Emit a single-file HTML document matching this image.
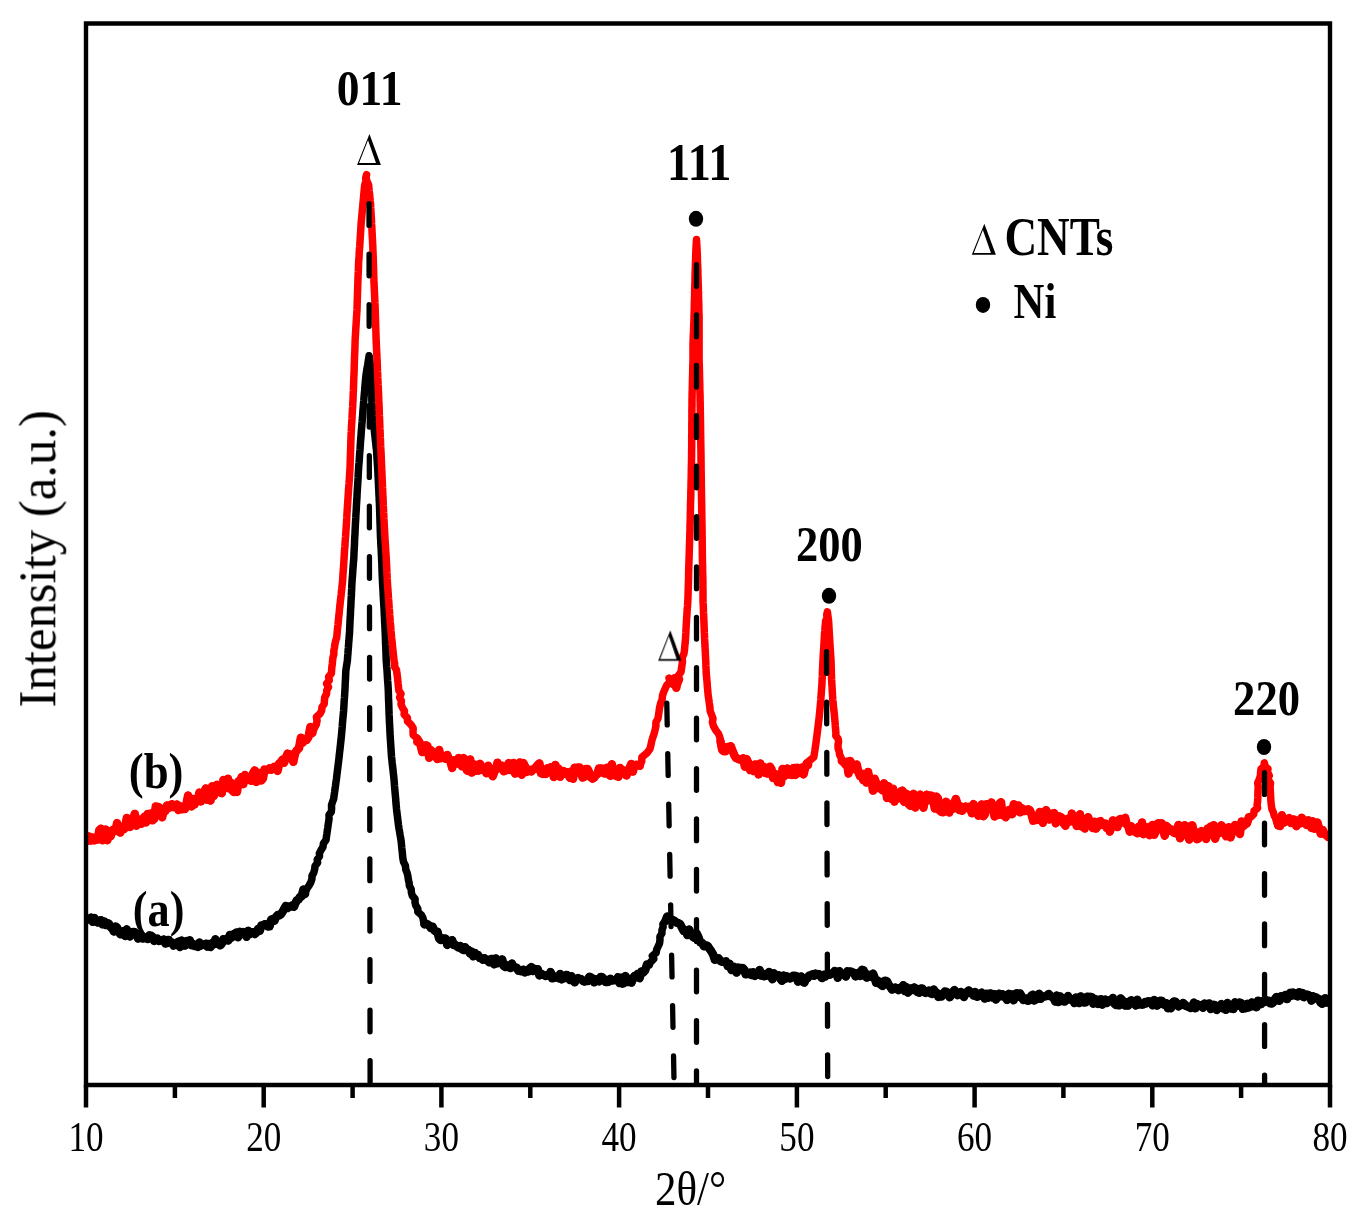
<!DOCTYPE html>
<html><head><meta charset="utf-8"><style>html,body{margin:0;padding:0;background:#fff;overflow:hidden}svg{display:block}</style></head><body>
<svg width="1364" height="1226" viewBox="0 0 1364 1226" font-family="&quot;Liberation Serif&quot;, serif" fill="#000">
<rect width="1364" height="1226" fill="#fff"/>
<defs><clipPath id="pc"><rect x="88" y="26" width="1240" height="1057"/></clipPath></defs>
<g clip-path="url(#pc)" fill="none" stroke-linejoin="round" stroke-linecap="round">
<polyline points="86.0,919.0 88.0,919.5 89.6,918.6 91.2,917.6 92.8,921.8 94.4,917.9 96.0,921.5 97.6,922.5 99.3,921.9 100.9,920.2 102.5,924.3 104.2,921.4 105.8,925.1 107.4,923.1 109.0,923.9 110.7,927.1 112.3,928.4 113.9,931.4 115.5,926.5 117.1,927.7 118.7,931.3 120.3,934.2 122.0,931.9 123.6,931.0 125.2,935.9 126.8,929.3 128.4,933.2 130.0,936.4 131.6,932.6 133.2,931.9 134.8,932.2 136.4,934.1 138.1,938.5 139.7,934.1 141.3,937.7 142.9,938.6 144.5,938.0 146.1,937.3 147.7,938.9 149.3,935.4 150.9,935.7 152.6,937.0 154.2,940.9 155.8,939.2 157.4,938.6 159.0,940.9 160.6,940.5 162.2,940.4 163.8,939.5 165.5,943.5 167.1,943.1 168.7,939.9 170.3,942.7 171.9,942.6 173.6,945.5 175.2,944.7 176.8,943.2 178.4,941.7 180.0,947.0 181.7,940.5 183.3,942.9 184.9,945.6 186.5,941.0 188.1,943.7 189.8,940.3 191.4,945.2 193.0,944.0 194.6,946.0 196.2,944.6 197.8,946.9 199.4,942.6 201.0,945.5 202.6,944.7 204.2,944.6 205.8,943.7 207.4,946.6 209.0,944.0 210.6,947.0 212.2,943.1 213.8,944.2 215.4,939.3 217.0,943.8 218.6,943.0 220.2,945.3 221.8,943.6 223.4,939.2 225.0,940.5 226.6,939.0 228.3,940.5 229.9,934.9 231.5,937.6 233.2,934.7 234.8,933.7 236.4,932.6 238.0,937.3 239.7,931.8 241.3,934.0 243.0,932.1 244.8,933.2 246.5,936.8 248.3,930.8 250.0,934.0 251.6,932.6 253.3,932.3 254.9,933.9 256.6,932.3 258.2,928.9 259.8,930.8 261.4,925.4 263.1,925.6 264.7,924.2 266.3,924.4 267.9,926.6 269.6,926.4 271.2,919.5 272.9,919.0 274.5,920.7 276.1,916.9 277.7,915.1 279.4,915.2 281.0,914.3 282.6,911.8 284.2,908.9 285.9,905.9 287.5,908.0 289.2,906.6 290.8,906.5 292.3,905.4 293.9,906.8 295.4,903.2 296.9,900.3 298.5,899.5 300.0,897.0 301.7,896.3 303.4,889.6 305.0,894.0 306.7,888.9 309.0,885.6 310.8,882.4 311.9,879.1 312.0,875.9 313.8,872.6 314.7,869.3 315.0,866.1 317.6,862.8 317.2,859.6 319.5,856.3 319.4,853.2 321.0,850.1 323.0,847.0 323.4,843.5 326.0,840.0 326.4,836.9 326.9,833.8 327.3,830.7 327.8,827.6 328.2,824.5 328.7,821.4 329.1,818.3 329.0,815.0 331.3,811.8 331.6,808.5 331.5,805.2 332.5,802.0 333.7,798.7 334.1,795.5 334.6,792.2 335.0,789.0 335.5,785.7 335.9,782.5 336.4,779.2 336.8,775.9 337.2,772.7 337.6,769.4 338.0,766.1 338.4,762.9 338.8,759.6 339.2,756.3 339.5,753.1 339.9,749.8 340.3,746.5 340.6,743.3 341.0,740.0 341.3,736.8 341.6,733.6 341.9,730.3 342.2,727.1 342.4,723.9 342.7,720.7 343.0,717.4 343.3,714.2 343.6,711.0 343.8,707.6 344.0,704.2 344.2,700.8 344.5,697.3 344.7,693.9 344.9,690.5 345.1,687.1 345.2,683.7 345.4,680.2 345.6,676.8 345.7,673.4 345.9,670.0 346.4,666.8 346.9,663.7 347.4,660.5 347.6,657.2 347.9,654.0 348.1,650.7 348.4,647.5 348.6,644.2 348.9,640.9 349.1,637.7 349.4,634.4 349.6,631.1 349.7,627.9 349.9,624.6 350.0,621.3 350.2,618.1 350.4,614.8 350.5,611.6 350.7,608.3 350.9,605.0 351.0,601.8 351.2,598.5 351.4,595.2 351.5,592.0 351.7,588.7 351.8,585.5 352.0,582.2 352.2,578.9 352.5,575.7 352.7,572.4 352.9,569.2 353.2,565.9 353.4,562.6 353.7,559.4 353.9,556.1 354.0,552.8 354.2,549.6 354.4,546.3 354.5,543.0 354.6,539.8 354.8,536.5 355.0,533.3 355.1,530.0 355.3,527.0 355.4,524.0 355.6,520.9 355.8,517.9 355.9,514.9 356.1,511.9 356.3,508.8 356.4,505.8 356.6,502.8 356.8,499.7 357.0,496.6 357.1,493.4 357.3,490.3 357.5,487.2 357.7,484.1 357.9,481.0 358.1,477.9 358.2,474.7 358.4,471.6 358.6,468.5 358.8,465.4 359.1,462.3 359.3,459.2 359.5,456.1 359.7,453.0 360.0,449.8 360.2,446.7 360.4,443.6 360.6,440.5 360.9,437.4 361.1,434.3 361.3,431.2 361.6,428.2 361.8,425.1 362.1,422.0 362.3,419.0 362.6,415.9 362.8,412.8 363.0,409.8 363.3,406.7 363.5,403.6 363.8,400.6 364.0,397.5 364.3,394.3 364.6,391.1 364.9,387.9 365.1,384.6 365.4,381.4 365.7,378.2 366.0,375.0 366.5,371.8 367.0,368.6 367.6,365.4 368.1,362.2 368.6,359.0 369.1,355.8 369.6,359.0 370.1,362.2 370.6,365.4 371.0,368.6 371.5,371.8 372.0,375.0 372.0,378.1 371.9,381.2 371.9,384.4 371.9,387.5 371.9,390.6 371.9,393.8 371.8,396.9 371.8,400.0 372.0,403.1 372.3,406.2 372.5,409.3 372.8,412.4 373.0,415.6 373.3,418.7 373.5,421.8 373.8,424.9 374.0,428.0 374.4,431.1 374.7,434.3 375.1,437.4 375.4,440.6 375.8,443.7 376.1,446.9 376.5,450.0 376.7,453.1 376.9,456.2 377.1,459.2 377.3,462.3 377.5,465.4 377.7,468.5 377.9,471.6 378.0,474.7 378.2,477.9 378.3,481.0 378.5,484.1 378.6,487.2 378.8,490.3 378.9,493.4 379.1,496.6 379.2,499.7 379.4,502.8 379.5,505.9 379.6,509.0 379.7,512.1 379.8,515.2 379.9,518.3 380.0,521.5 380.1,524.6 380.2,527.7 380.3,530.8 380.4,533.9 380.5,537.0 380.7,540.2 380.8,543.4 381.0,546.5 381.2,549.7 381.3,552.9 381.5,556.1 381.6,559.4 381.8,562.6 381.9,565.9 382.0,569.2 382.1,572.4 382.2,575.7 382.4,578.9 382.5,582.2 382.7,585.5 382.9,588.7 383.1,592.0 383.2,595.2 383.4,598.5 383.6,601.8 383.8,605.0 384.0,608.3 384.2,611.6 384.3,614.8 384.5,618.1 384.6,621.3 384.8,624.6 385.0,627.9 385.1,631.1 385.3,634.4 385.4,637.7 385.5,640.9 385.6,644.2 385.8,647.5 385.9,650.7 386.0,654.0 386.1,657.2 386.2,660.5 386.5,663.7 386.7,666.8 387.0,670.0 387.2,673.4 387.4,676.8 387.6,680.2 387.9,683.7 388.1,687.1 388.3,690.5 388.4,693.9 388.5,697.3 388.6,700.8 388.8,704.2 388.9,707.6 389.0,711.0 389.1,714.4 389.3,717.9 389.4,721.3 389.6,724.7 389.8,728.2 389.9,731.6 390.1,734.7 390.3,737.9 390.5,741.0 390.7,744.1 390.9,747.2 391.1,750.4 391.3,753.5 391.5,756.6 391.9,759.9 392.2,763.2 392.6,766.5 393.0,769.7 393.3,773.0 393.7,776.3 394.0,779.6 394.3,782.8 394.5,786.1 394.8,789.3 395.1,792.6 395.4,795.9 395.7,799.1 395.9,802.4 396.2,805.6 396.5,808.9 396.9,812.2 397.3,815.5 397.7,818.7 398.1,822.0 398.5,825.3 399.0,828.6 399.6,831.8 400.1,835.1 400.7,838.3 401.2,841.6 401.5,844.9 401.8,848.1 402.2,851.4 402.5,854.6 402.8,857.9 403.5,861.8 405.4,865.7 405.8,869.6 407.1,872.9 407.9,876.1 408.3,879.4 409.1,882.7 409.4,885.9 411.2,889.2 411.4,892.5 412.3,895.7 415.1,899.0 415.0,902.3 415.8,905.5 417.8,908.8 417.8,911.9 421.5,915.0 423.0,918.2 423.6,921.3 424.4,924.4 426.0,923.7 427.7,924.4 429.3,925.8 430.9,928.0 432.6,926.7 434.2,930.3 435.8,931.4 437.5,931.6 439.1,938.5 440.7,940.1 442.4,938.4 444.0,939.6 445.6,938.6 447.3,944.9 448.9,940.9 450.5,942.1 452.2,940.3 453.8,945.0 455.4,944.9 457.0,946.4 458.6,947.5 460.3,946.0 461.9,949.1 463.5,949.9 465.1,947.2 466.8,950.2 468.4,950.0 470.0,953.4 471.7,951.8 473.3,956.3 474.9,952.9 476.5,955.4 478.1,955.1 479.7,958.0 481.3,957.9 482.9,959.8 484.5,958.2 486.1,959.8 487.7,960.7 489.3,962.3 490.9,959.0 492.6,958.9 494.2,964.3 495.8,958.4 497.4,963.2 499.0,963.0 500.6,962.3 502.2,959.4 503.8,966.0 505.5,967.0 507.1,965.5 508.7,966.9 510.3,968.0 511.9,963.5 513.6,967.0 515.2,967.4 516.8,967.9 518.4,970.8 520.0,970.8 521.7,971.3 523.3,969.8 524.9,972.4 526.5,971.2 528.1,971.5 529.8,968.3 531.4,967.1 533.0,971.0 534.6,968.7 536.2,970.8 537.8,969.3 539.4,975.4 541.0,973.7 542.6,974.7 544.2,975.1 545.8,976.0 547.4,975.0 549.0,975.5 550.6,972.0 552.2,978.3 553.8,978.1 555.4,976.5 557.0,977.0 558.6,978.2 560.2,974.0 561.8,979.3 563.4,975.9 565.0,978.0 566.6,974.9 568.3,976.5 569.9,980.1 571.5,976.2 573.1,980.4 574.8,982.3 576.4,978.8 578.0,978.1 579.7,978.9 581.3,979.2 582.9,980.8 584.5,981.5 586.1,980.6 587.7,980.9 589.3,976.8 591.0,977.5 592.6,978.4 594.2,982.3 595.8,979.2 597.4,980.8 599.0,981.3 600.6,977.0 602.2,977.3 603.8,978.8 605.5,981.9 607.1,982.0 608.7,981.8 610.3,978.8 611.9,980.5 613.5,980.3 615.0,980.0 616.5,979.9 618.0,977.2 619.5,983.0 621.0,977.7 622.5,983.6 624.0,983.2 625.5,976.1 627.0,979.4 628.5,982.1 630.0,979.6 631.5,982.6 633.0,978.0 634.5,976.0 636.0,977.2 637.8,973.8 639.6,978.2 641.5,971.4 643.3,972.4 645.1,970.4 647.0,964.5 648.9,964.8 650.7,962.0 653.8,958.9 652.3,955.9 656.2,952.8 656.6,949.8 658.0,946.7 659.5,943.4 660.0,940.0 659.9,936.7 661.9,933.3 662.0,930.0 663.1,927.0 662.9,924.0 665.5,921.0 667.2,916.5 669.0,919.5 670.8,919.7 672.5,920.0 674.5,920.9 676.4,922.5 678.2,923.1 680.0,924.0 681.9,927.6 683.7,930.9 685.6,930.3 687.4,935.1 689.2,929.6 691.1,934.2 692.9,936.8 694.8,938.2 696.6,933.5 698.4,937.1 700.2,942.4 702.1,942.8 703.9,946.2 705.8,945.2 707.6,945.9 709.5,948.8 711.3,951.3 713.1,954.4 714.9,959.8 716.8,958.4 718.6,958.3 720.4,961.0 722.2,961.7 724.1,961.8 725.9,961.4 727.8,966.1 729.6,963.8 731.5,970.0 733.3,966.6 735.1,968.9 736.6,972.5 738.1,967.5 739.6,967.9 741.1,970.1 742.6,967.9 744.2,969.6 745.7,974.3 747.2,974.0 748.7,973.7 750.2,972.6 751.7,975.1 753.2,972.2 754.8,975.9 756.4,973.2 758.0,974.8 759.6,970.0 761.2,975.6 762.8,973.7 764.4,976.3 766.0,975.8 767.6,973.4 769.2,972.0 770.8,975.7 772.4,979.2 774.0,973.3 775.6,976.1 777.2,975.3 778.8,975.2 780.4,978.8 782.0,980.8 783.6,975.6 785.2,978.8 786.8,976.3 788.4,978.0 790.0,978.5 791.6,977.4 793.2,975.7 794.8,975.8 796.4,976.2 798.0,981.6 799.6,978.6 801.2,976.5 802.8,981.8 804.4,982.6 806.0,978.9 807.6,978.1 809.2,975.4 810.8,975.4 812.4,974.3 814.0,975.8 815.6,973.6 817.2,974.3 818.8,974.1 820.4,976.1 822.0,978.1 823.6,974.8 825.2,976.6 826.8,974.0 828.3,973.9 829.9,974.7 831.5,973.5 833.1,973.1 834.7,971.0 836.3,972.5 837.8,977.7 839.4,971.2 841.0,974.0 842.6,973.9 844.2,974.7 845.9,976.4 847.5,971.4 849.1,971.7 850.7,971.4 852.3,972.4 853.9,972.6 855.6,976.4 857.2,975.5 858.8,972.7 860.4,975.9 862.0,969.8 863.6,970.3 865.2,975.8 866.8,977.6 868.4,974.7 870.0,975.3 871.5,977.0 873.0,973.6 874.6,977.6 876.1,982.7 877.6,980.5 879.2,983.6 880.8,984.5 882.4,986.0 884.0,981.1 885.6,980.7 887.2,981.7 888.8,985.1 890.4,987.0 892.0,989.6 893.6,988.5 895.2,987.5 896.8,988.9 898.4,990.0 900.0,987.9 901.6,988.8 903.2,985.2 904.8,991.1 906.4,987.1 908.0,992.6 909.6,990.7 911.2,988.4 912.8,990.1 914.4,987.5 916.0,988.8 917.6,992.0 919.2,992.7 920.8,988.5 922.4,988.5 924.0,992.2 925.6,992.9 927.2,991.7 928.8,990.7 930.4,993.1 932.0,993.9 933.6,989.5 935.2,991.8 936.8,993.0 938.4,996.9 940.0,994.5 941.6,996.4 943.2,993.3 944.8,991.6 946.4,991.7 948.0,993.7 949.6,997.2 951.2,995.3 952.8,992.2 954.4,990.1 956.0,993.7 957.6,995.0 959.2,993.1 960.8,991.9 962.4,995.0 964.0,996.9 965.6,993.7 967.2,991.7 968.8,990.4 970.4,992.8 972.0,993.5 973.6,995.6 975.2,992.1 976.8,996.7 978.4,996.4 980.0,994.7 981.6,992.6 983.2,994.9 984.8,998.6 986.4,993.7 988.0,997.7 989.6,993.4 991.2,993.4 992.8,997.6 994.4,994.2 996.0,999.4 997.6,996.0 999.2,993.8 1000.8,996.3 1002.4,994.2 1004.0,995.7 1005.6,997.7 1007.2,999.9 1008.8,993.8 1010.4,995.7 1012.0,994.4 1013.6,1000.2 1015.2,993.9 1016.8,993.3 1018.4,996.7 1020.0,993.4 1021.6,996.0 1023.2,999.9 1024.8,999.8 1026.4,998.7 1028.0,1000.8 1029.6,1000.3 1031.2,995.8 1032.8,994.7 1034.4,1000.5 1036.0,997.2 1037.6,999.1 1039.2,993.8 1040.8,998.7 1042.4,996.6 1044.0,996.6 1045.6,996.4 1047.2,995.2 1048.8,994.0 1050.4,996.2 1052.0,996.8 1053.6,998.0 1055.2,1001.6 1056.8,995.5 1058.4,1002.0 1060.0,996.4 1061.6,997.7 1063.2,1001.4 1064.8,1001.6 1066.4,998.8 1068.0,996.0 1069.6,999.4 1071.2,999.8 1072.8,998.9 1074.4,1003.1 1076.0,997.6 1077.6,998.9 1079.2,1003.0 1080.8,996.4 1082.4,999.4 1084.0,1002.5 1085.6,1002.2 1087.2,996.7 1088.8,1000.2 1090.3,996.8 1091.8,997.1 1093.3,1003.7 1094.8,998.8 1096.3,1002.6 1097.8,1003.9 1099.3,999.7 1100.8,999.3 1102.3,1004.6 1103.8,1002.2 1105.3,999.6 1106.8,1003.1 1108.3,1001.6 1109.8,1000.3 1111.4,1000.0 1112.9,998.0 1114.4,1003.7 1116.0,1005.0 1117.5,1002.9 1119.0,1005.3 1120.6,998.4 1122.1,1000.0 1123.6,1001.9 1125.2,1005.6 1126.7,1002.2 1128.2,1005.6 1129.8,1001.3 1131.3,1000.3 1132.8,1001.7 1134.3,1002.2 1135.8,1005.5 1137.4,999.8 1138.9,1004.5 1140.4,1004.0 1142.0,1004.7 1143.5,1004.3 1145.0,1002.2 1146.5,1003.2 1148.0,1001.3 1149.6,1001.4 1151.1,1001.9 1152.6,1005.3 1154.2,1000.1 1155.7,1001.2 1157.2,1005.6 1158.7,1001.9 1160.2,1000.7 1161.8,1000.7 1163.3,1004.4 1164.8,1004.8 1166.3,1003.2 1167.9,1008.2 1169.4,1007.5 1170.9,1008.3 1172.4,1002.9 1174.0,1001.5 1175.5,1001.7 1177.0,1004.8 1178.5,1006.4 1180.1,1004.5 1181.6,1004.9 1183.1,1003.0 1184.7,1004.4 1186.2,1006.0 1187.7,1006.5 1189.3,1007.2 1190.8,1008.0 1192.3,1006.7 1193.9,1002.6 1195.4,1008.2 1196.9,1004.1 1198.5,1006.2 1200.0,1005.8 1201.5,1004.9 1203.0,1007.7 1204.6,1003.6 1206.1,1004.0 1207.6,1004.0 1209.2,1003.4 1210.7,1009.0 1212.2,1006.7 1213.7,1004.8 1215.2,1005.3 1216.8,1009.9 1218.3,1006.2 1219.8,1006.2 1221.3,1004.1 1222.9,1008.4 1224.4,1007.2 1225.9,1009.8 1227.4,1003.0 1229.0,1005.8 1230.5,1008.4 1232.0,1008.5 1233.5,1009.0 1235.1,1002.3 1236.6,1005.8 1238.1,1004.1 1239.7,1002.6 1241.2,1003.0 1242.7,1008.8 1244.3,1005.7 1245.8,1008.2 1247.3,1003.8 1248.9,1007.4 1250.4,1004.1 1251.9,1002.5 1253.5,1006.3 1255.0,1004.0 1256.5,1007.2 1258.0,1000.7 1259.6,1004.3 1261.1,1004.3 1262.6,1001.1 1264.2,1002.1 1265.7,1000.2 1267.2,1000.6 1268.7,1000.8 1270.2,1003.3 1271.8,1003.5 1273.3,1002.2 1274.8,999.2 1276.3,997.1 1277.8,998.8 1279.4,1000.8 1280.9,996.3 1282.4,998.0 1283.9,996.2 1285.5,995.0 1287.0,999.1 1288.5,996.8 1290.1,992.8 1291.6,995.7 1293.1,992.6 1294.7,994.7 1296.2,995.8 1297.7,996.4 1299.3,992.2 1300.8,995.2 1302.3,992.9 1303.9,997.2 1305.4,995.3 1306.9,994.6 1308.5,995.0 1310.0,996.7 1311.5,1000.6 1313.0,996.2 1314.5,998.6 1316.0,997.4 1317.5,998.3 1319.0,999.4 1320.5,1002.5 1322.1,1003.8 1323.7,999.3 1325.2,998.3 1326.8,1002.6 1328.3,1001.2 1330.0,1001.5" stroke="#000" stroke-width="7.5"/>
<polyline points="86.0,919.0 88.0,919.5 89.6,918.6 91.2,917.6 92.8,921.8 94.4,917.9 96.0,921.5 97.6,922.5 99.3,921.9 100.9,920.2 102.5,924.3 104.2,921.4 105.8,925.1 107.4,923.1 109.0,923.9 110.7,927.1 112.3,928.4 113.9,931.4 115.5,926.5 117.1,927.7 118.7,931.3 120.3,934.2 122.0,931.9 123.6,931.0 125.2,935.9 126.8,929.3 128.4,933.2 130.0,936.4 131.6,932.6 133.2,931.9 134.8,932.2 136.4,934.1 138.1,938.5 139.7,934.1 141.3,937.7 142.9,938.6 144.5,938.0 146.1,937.3 147.7,938.9 149.3,935.4 150.9,935.7 152.6,937.0 154.2,940.9 155.8,939.2 157.4,938.6 159.0,940.9 160.6,940.5 162.2,940.4 163.8,939.5 165.5,943.5 167.1,943.1 168.7,939.9 170.3,942.7 171.9,942.6 173.6,945.5 175.2,944.7 176.8,943.2 178.4,941.7 180.0,947.0 181.7,940.5 183.3,942.9 184.9,945.6 186.5,941.0 188.1,943.7 189.8,940.3 191.4,945.2 193.0,944.0 194.6,946.0 196.2,944.6 197.8,946.9 199.4,942.6 201.0,945.5 202.6,944.7 204.2,944.6 205.8,943.7 207.4,946.6 209.0,944.0 210.6,947.0 212.2,943.1 213.8,944.2 215.4,939.3 217.0,943.8 218.6,943.0 220.2,945.3 221.8,943.6 223.4,939.2 225.0,940.5 226.6,939.0 228.3,940.5 229.9,934.9 231.5,937.6 233.2,934.7 234.8,933.7 236.4,932.6 238.0,937.3 239.7,931.8 241.3,934.0 243.0,932.1 244.8,933.2 246.5,936.8 248.3,930.8 250.0,934.0 251.6,932.6 253.3,932.3 254.9,933.9 256.6,932.3 258.2,928.9 259.8,930.8 261.4,925.4 263.1,925.6 264.7,924.2 266.3,924.4 267.9,926.6 269.6,926.4 271.2,919.5 272.9,919.0 274.5,920.7 276.1,916.9 277.7,915.1 279.4,915.2 281.0,914.3 282.6,911.8 284.2,908.9 285.9,905.9 287.5,908.0 289.2,906.6 290.8,906.5 292.3,905.4 293.9,906.8 295.4,903.2 296.9,900.3 298.5,899.5 300.0,897.0 301.7,896.3 303.4,889.6 305.0,894.0" stroke="#000" stroke-width="8.5"/>
<polyline points="424.4,924.4 426.0,923.7 427.7,924.4 429.3,925.8 430.9,928.0 432.6,926.7 434.2,930.3 435.8,931.4 437.5,931.6 439.1,938.5 440.7,940.1 442.4,938.4 444.0,939.6 445.6,938.6 447.3,944.9 448.9,940.9 450.5,942.1 452.2,940.3 453.8,945.0 455.4,944.9 457.0,946.4 458.6,947.5 460.3,946.0 461.9,949.1 463.5,949.9 465.1,947.2 466.8,950.2 468.4,950.0 470.0,953.4 471.7,951.8 473.3,956.3 474.9,952.9 476.5,955.4 478.1,955.1 479.7,958.0 481.3,957.9 482.9,959.8 484.5,958.2 486.1,959.8 487.7,960.7 489.3,962.3 490.9,959.0 492.6,958.9 494.2,964.3 495.8,958.4 497.4,963.2 499.0,963.0 500.6,962.3 502.2,959.4 503.8,966.0 505.5,967.0 507.1,965.5 508.7,966.9 510.3,968.0 511.9,963.5 513.6,967.0 515.2,967.4 516.8,967.9 518.4,970.8 520.0,970.8 521.7,971.3 523.3,969.8 524.9,972.4 526.5,971.2 528.1,971.5 529.8,968.3 531.4,967.1 533.0,971.0 534.6,968.7 536.2,970.8 537.8,969.3 539.4,975.4 541.0,973.7 542.6,974.7 544.2,975.1 545.8,976.0 547.4,975.0 549.0,975.5 550.6,972.0 552.2,978.3 553.8,978.1 555.4,976.5 557.0,977.0 558.6,978.2 560.2,974.0 561.8,979.3 563.4,975.9 565.0,978.0 566.6,974.9 568.3,976.5 569.9,980.1 571.5,976.2 573.1,980.4 574.8,982.3 576.4,978.8 578.0,978.1 579.7,978.9 581.3,979.2 582.9,980.8 584.5,981.5 586.1,980.6 587.7,980.9 589.3,976.8 591.0,977.5 592.6,978.4 594.2,982.3 595.8,979.2 597.4,980.8 599.0,981.3 600.6,977.0 602.2,977.3 603.8,978.8 605.5,981.9 607.1,982.0 608.7,981.8 610.3,978.8 611.9,980.5 613.5,980.3 615.0,980.0 616.5,979.9 618.0,977.2 619.5,983.0 621.0,977.7 622.5,983.6 624.0,983.2 625.5,976.1 627.0,979.4 628.5,982.1 630.0,979.6 631.5,982.6 633.0,978.0 634.5,976.0 636.0,977.2 637.8,973.8 639.6,978.2 641.5,971.4 643.3,972.4 645.1,970.4 647.0,964.5 648.9,964.8" stroke="#000" stroke-width="8.5"/>
<polyline points="665.5,921.0 667.2,916.5 669.0,919.5 670.8,919.7 672.5,920.0 674.5,920.9 676.4,922.5 678.2,923.1 680.0,924.0 681.9,927.6 683.7,930.9 685.6,930.3 687.4,935.1 689.2,929.6 691.1,934.2 692.9,936.8 694.8,938.2 696.6,933.5 698.4,937.1 700.2,942.4 702.1,942.8 703.9,946.2 705.8,945.2 707.6,945.9 709.5,948.8 711.3,951.3 713.1,954.4 714.9,959.8 716.8,958.4 718.6,958.3 720.4,961.0 722.2,961.7 724.1,961.8 725.9,961.4 727.8,966.1 729.6,963.8 731.5,970.0 733.3,966.6 735.1,968.9 736.6,972.5 738.1,967.5 739.6,967.9 741.1,970.1 742.6,967.9 744.2,969.6 745.7,974.3 747.2,974.0 748.7,973.7 750.2,972.6 751.7,975.1 753.2,972.2 754.8,975.9 756.4,973.2 758.0,974.8 759.6,970.0 761.2,975.6 762.8,973.7 764.4,976.3 766.0,975.8 767.6,973.4 769.2,972.0 770.8,975.7 772.4,979.2 774.0,973.3 775.6,976.1 777.2,975.3 778.8,975.2 780.4,978.8 782.0,980.8 783.6,975.6 785.2,978.8 786.8,976.3 788.4,978.0 790.0,978.5 791.6,977.4 793.2,975.7 794.8,975.8 796.4,976.2 798.0,981.6 799.6,978.6 801.2,976.5 802.8,981.8 804.4,982.6 806.0,978.9 807.6,978.1 809.2,975.4 810.8,975.4 812.4,974.3 814.0,975.8 815.6,973.6 817.2,974.3 818.8,974.1 820.4,976.1 822.0,978.1 823.6,974.8 825.2,976.6 826.8,974.0 828.3,973.9 829.9,974.7 831.5,973.5 833.1,973.1 834.7,971.0 836.3,972.5 837.8,977.7 839.4,971.2 841.0,974.0 842.6,973.9 844.2,974.7 845.9,976.4 847.5,971.4 849.1,971.7 850.7,971.4 852.3,972.4 853.9,972.6 855.6,976.4 857.2,975.5 858.8,972.7 860.4,975.9 862.0,969.8 863.6,970.3 865.2,975.8 866.8,977.6 868.4,974.7 870.0,975.3 871.5,977.0 873.0,973.6 874.6,977.6 876.1,982.7 877.6,980.5 879.2,983.6 880.8,984.5 882.4,986.0 884.0,981.1 885.6,980.7 887.2,981.7 888.8,985.1 890.4,987.0 892.0,989.6 893.6,988.5 895.2,987.5 896.8,988.9 898.4,990.0 900.0,987.9 901.6,988.8 903.2,985.2 904.8,991.1 906.4,987.1 908.0,992.6 909.6,990.7 911.2,988.4 912.8,990.1 914.4,987.5 916.0,988.8 917.6,992.0 919.2,992.7 920.8,988.5 922.4,988.5 924.0,992.2 925.6,992.9 927.2,991.7 928.8,990.7 930.4,993.1 932.0,993.9 933.6,989.5 935.2,991.8 936.8,993.0 938.4,996.9 940.0,994.5 941.6,996.4 943.2,993.3 944.8,991.6 946.4,991.7 948.0,993.7 949.6,997.2 951.2,995.3 952.8,992.2 954.4,990.1 956.0,993.7 957.6,995.0 959.2,993.1 960.8,991.9 962.4,995.0 964.0,996.9 965.6,993.7 967.2,991.7 968.8,990.4 970.4,992.8 972.0,993.5 973.6,995.6 975.2,992.1 976.8,996.7 978.4,996.4 980.0,994.7 981.6,992.6 983.2,994.9 984.8,998.6 986.4,993.7 988.0,997.7 989.6,993.4 991.2,993.4 992.8,997.6 994.4,994.2 996.0,999.4 997.6,996.0 999.2,993.8 1000.8,996.3 1002.4,994.2 1004.0,995.7 1005.6,997.7 1007.2,999.9 1008.8,993.8 1010.4,995.7 1012.0,994.4 1013.6,1000.2 1015.2,993.9 1016.8,993.3 1018.4,996.7 1020.0,993.4 1021.6,996.0 1023.2,999.9 1024.8,999.8 1026.4,998.7 1028.0,1000.8 1029.6,1000.3 1031.2,995.8 1032.8,994.7 1034.4,1000.5 1036.0,997.2 1037.6,999.1 1039.2,993.8 1040.8,998.7 1042.4,996.6 1044.0,996.6 1045.6,996.4 1047.2,995.2 1048.8,994.0 1050.4,996.2 1052.0,996.8 1053.6,998.0 1055.2,1001.6 1056.8,995.5 1058.4,1002.0 1060.0,996.4 1061.6,997.7 1063.2,1001.4 1064.8,1001.6 1066.4,998.8 1068.0,996.0 1069.6,999.4 1071.2,999.8 1072.8,998.9 1074.4,1003.1 1076.0,997.6 1077.6,998.9 1079.2,1003.0 1080.8,996.4 1082.4,999.4 1084.0,1002.5 1085.6,1002.2 1087.2,996.7 1088.8,1000.2 1090.3,996.8 1091.8,997.1 1093.3,1003.7 1094.8,998.8 1096.3,1002.6 1097.8,1003.9 1099.3,999.7 1100.8,999.3 1102.3,1004.6 1103.8,1002.2 1105.3,999.6 1106.8,1003.1 1108.3,1001.6 1109.8,1000.3 1111.4,1000.0 1112.9,998.0 1114.4,1003.7 1116.0,1005.0 1117.5,1002.9 1119.0,1005.3 1120.6,998.4 1122.1,1000.0 1123.6,1001.9 1125.2,1005.6 1126.7,1002.2 1128.2,1005.6 1129.8,1001.3 1131.3,1000.3 1132.8,1001.7 1134.3,1002.2 1135.8,1005.5 1137.4,999.8 1138.9,1004.5 1140.4,1004.0 1142.0,1004.7 1143.5,1004.3 1145.0,1002.2 1146.5,1003.2 1148.0,1001.3 1149.6,1001.4 1151.1,1001.9 1152.6,1005.3 1154.2,1000.1 1155.7,1001.2 1157.2,1005.6 1158.7,1001.9 1160.2,1000.7 1161.8,1000.7 1163.3,1004.4 1164.8,1004.8 1166.3,1003.2 1167.9,1008.2 1169.4,1007.5 1170.9,1008.3 1172.4,1002.9 1174.0,1001.5 1175.5,1001.7 1177.0,1004.8 1178.5,1006.4 1180.1,1004.5 1181.6,1004.9 1183.1,1003.0 1184.7,1004.4 1186.2,1006.0 1187.7,1006.5 1189.3,1007.2 1190.8,1008.0 1192.3,1006.7 1193.9,1002.6 1195.4,1008.2 1196.9,1004.1 1198.5,1006.2 1200.0,1005.8 1201.5,1004.9 1203.0,1007.7 1204.6,1003.6 1206.1,1004.0 1207.6,1004.0 1209.2,1003.4 1210.7,1009.0 1212.2,1006.7 1213.7,1004.8 1215.2,1005.3 1216.8,1009.9 1218.3,1006.2 1219.8,1006.2 1221.3,1004.1 1222.9,1008.4 1224.4,1007.2 1225.9,1009.8 1227.4,1003.0 1229.0,1005.8 1230.5,1008.4 1232.0,1008.5 1233.5,1009.0 1235.1,1002.3 1236.6,1005.8 1238.1,1004.1 1239.7,1002.6 1241.2,1003.0 1242.7,1008.8 1244.3,1005.7 1245.8,1008.2 1247.3,1003.8 1248.9,1007.4 1250.4,1004.1 1251.9,1002.5 1253.5,1006.3 1255.0,1004.0 1256.5,1007.2 1258.0,1000.7 1259.6,1004.3 1261.1,1004.3 1262.6,1001.1 1264.2,1002.1 1265.7,1000.2 1267.2,1000.6 1268.7,1000.8 1270.2,1003.3 1271.8,1003.5 1273.3,1002.2 1274.8,999.2 1276.3,997.1 1277.8,998.8 1279.4,1000.8 1280.9,996.3 1282.4,998.0 1283.9,996.2 1285.5,995.0 1287.0,999.1 1288.5,996.8 1290.1,992.8 1291.6,995.7 1293.1,992.6 1294.7,994.7 1296.2,995.8 1297.7,996.4 1299.3,992.2 1300.8,995.2 1302.3,992.9 1303.9,997.2 1305.4,995.3 1306.9,994.6 1308.5,995.0 1310.0,996.7 1311.5,1000.6 1313.0,996.2 1314.5,998.6 1316.0,997.4 1317.5,998.3 1319.0,999.4 1320.5,1002.5 1322.1,1003.8 1323.7,999.3 1325.2,998.3 1326.8,1002.6 1328.3,1001.2" stroke="#000" stroke-width="8.5"/>
<polyline points="86.0,840.0 87.3,840.8 89.0,836.4 90.8,840.5 92.5,837.4 94.3,840.4 96.0,838.4 97.6,839.5 99.3,830.3 100.9,828.7 102.5,840.2 104.2,830.7 105.8,829.6 107.4,840.2 109.0,831.5 110.7,836.2 112.3,830.3 113.9,829.3 115.5,831.1 117.1,823.1 118.7,829.8 120.3,832.6 122.0,826.8 123.6,829.4 125.2,827.8 126.8,818.0 128.4,823.9 130.0,827.0 131.6,823.8 133.2,818.7 134.8,813.9 136.4,825.7 138.1,819.1 139.7,822.1 141.3,823.7 142.9,820.5 144.5,816.6 146.1,822.4 147.7,813.9 149.3,819.4 150.9,813.5 152.6,820.3 154.2,818.9 155.8,806.6 157.4,806.7 159.0,807.3 160.6,811.0 162.2,817.3 163.8,808.7 165.5,810.9 167.1,805.4 168.7,807.9 170.3,805.4 171.9,804.2 173.6,807.1 175.2,806.4 176.8,804.5 178.4,810.0 180.0,806.1 181.7,809.3 183.3,807.6 184.9,809.1 186.5,803.7 188.1,795.5 189.8,805.4 191.4,806.4 193.0,798.9 194.6,804.5 196.2,799.0 197.8,800.6 199.4,792.6 201.0,801.4 202.6,797.1 204.2,792.2 205.8,788.4 207.4,799.8 209.0,794.0 210.6,800.5 212.2,786.2 213.8,796.1 215.4,789.5 217.0,784.8 218.6,786.1 220.2,792.4 221.8,793.2 223.4,780.0 225.0,786.0 226.5,787.5 228.0,778.8 229.5,788.7 231.0,782.7 232.5,790.7 234.0,792.0 235.5,784.7 237.0,791.9 238.5,781.3 240.0,784.0 241.6,777.0 243.3,784.2 244.9,775.0 246.5,776.9 248.2,779.4 249.8,780.1 251.4,780.8 253.1,773.1 254.7,770.4 256.3,781.9 258.0,772.6 259.6,774.5 261.2,780.4 262.9,778.4 264.5,769.6 266.1,769.8 267.8,769.7 269.4,768.4 271.0,769.7 272.7,768.2 274.3,766.8 275.9,766.9 277.6,770.9 279.2,763.5 280.8,762.2 282.4,759.7 284.1,762.7 285.7,758.0 287.6,753.7 289.5,754.3 291.4,757.0 293.3,761.8 295.2,752.7 297.1,750.0 299.0,748.2 300.9,737.7 302.8,742.5 304.7,739.4 306.6,740.0 308.5,737.0 310.4,727.0 312.3,733.1 314.2,728.5 316.3,724.5 317.1,720.5 316.4,717.1 320.0,713.7 321.7,710.5 322.0,707.2 324.2,704.0 324.4,700.8 324.7,697.4 326.6,693.9 326.7,690.5 328.5,687.1 326.6,683.7 329.3,680.3 328.6,676.9 331.4,673.4 331.6,670.0 331.9,666.8 332.3,663.7 332.6,660.5 333.0,657.2 333.9,654.0 333.8,650.7 334.5,647.5 334.9,644.2 335.6,640.9 336.7,637.7 337.0,634.4 337.3,631.1 337.6,627.9 338.0,624.6 338.3,621.3 338.6,618.1 339.0,614.8 339.3,611.6 339.6,608.3 340.0,605.0 340.3,601.8 340.7,598.5 341.1,595.2 341.4,592.0 341.8,588.7 342.1,585.5 342.5,582.2 342.7,578.9 342.9,575.7 343.1,572.4 343.4,569.2 343.6,565.9 343.8,562.6 344.0,559.4 344.2,556.1 344.4,552.8 344.6,549.6 344.9,546.3 345.1,543.0 345.3,539.8 345.6,536.5 345.8,533.3 346.0,530.0 346.2,527.0 346.4,524.0 346.6,520.9 346.8,517.9 346.9,514.9 347.1,511.9 347.3,508.8 347.5,505.8 347.7,502.8 347.9,499.7 348.1,496.6 348.3,493.4 348.5,490.3 348.7,487.2 349.0,484.1 349.2,481.0 349.4,477.9 349.6,474.7 349.8,471.6 350.0,468.5 350.1,465.4 350.2,462.3 350.3,459.2 350.4,456.1 350.5,453.0 350.6,449.8 350.7,446.7 350.8,443.6 350.9,440.5 351.0,437.4 351.1,434.3 351.3,431.2 351.4,428.1 351.6,424.9 351.8,421.8 352.0,418.7 352.1,415.6 352.3,412.5 352.5,409.4 352.7,406.2 352.8,403.1 353.0,400.0 353.1,396.8 353.2,393.6 353.4,390.4 353.5,387.2 353.6,384.1 353.7,380.9 353.8,377.7 354.0,374.5 354.1,371.3 354.2,368.1 354.3,364.8 354.4,361.6 354.5,358.3 354.6,355.0 354.8,351.8 354.9,348.5 355.0,345.2 355.1,342.0 355.2,338.7 355.4,335.4 355.6,332.2 355.8,328.9 356.0,325.7 356.2,322.4 356.4,319.2 356.6,315.9 356.8,312.7 357.0,309.4 357.1,306.2 357.2,303.1 357.3,299.9 357.4,296.8 357.5,293.6 357.6,290.5 357.7,287.3 357.8,284.2 357.9,281.0 358.0,278.0 358.1,275.0 358.3,271.9 358.4,268.9 358.5,265.9 358.6,262.9 358.8,259.6 359.1,256.4 359.2,253.1 359.4,249.8 359.7,246.6 359.9,243.3 360.1,240.0 360.3,236.8 360.5,233.5 360.7,230.2 360.9,227.0 361.1,223.7 361.4,220.4 361.7,217.2 362.0,213.9 362.3,210.7 362.6,207.4 362.9,204.2 363.2,200.9 363.5,197.7 363.8,194.4 364.1,191.1 364.4,187.9 364.8,184.6 366.0,181.3 365.7,177.9 366.6,174.6 366.0,177.9 367.0,181.3 368.6,184.6 368.9,187.9 369.2,191.1 369.6,194.4 369.9,197.7 370.2,200.9 370.6,204.2 370.7,207.4 370.9,210.7 371.1,213.9 371.3,217.2 371.5,220.4 371.6,223.7 371.8,227.0 372.0,230.2 372.1,233.5 372.3,236.8 372.5,240.0 372.6,243.3 372.8,246.6 372.9,249.8 373.0,253.1 373.2,256.4 373.3,259.6 373.4,262.9 373.5,266.3 373.6,269.7 373.7,273.2 373.8,276.6 373.9,280.0 374.0,283.3 374.2,286.5 374.3,289.8 374.5,293.1 374.6,296.3 374.8,299.6 374.9,302.9 375.1,306.1 375.2,309.4 375.3,312.7 375.4,315.9 375.5,319.2 375.6,322.4 375.7,325.7 375.8,328.9 375.9,332.2 376.0,335.4 376.1,338.7 376.2,342.0 376.4,345.2 376.5,348.5 376.7,351.8 376.8,355.0 377.0,358.3 377.1,361.6 377.3,364.8 377.4,368.1 377.5,371.4 377.7,374.6 377.8,377.9 378.0,381.2 378.1,384.4 378.3,387.7 378.4,391.0 378.6,394.2 378.7,397.5 378.8,400.6 378.9,403.6 379.1,406.7 379.2,409.8 379.3,412.8 379.4,415.9 379.6,419.0 379.7,422.0 379.8,425.1 379.9,428.2 380.1,431.2 380.2,434.3 380.3,437.4 380.5,440.5 380.6,443.6 380.7,446.7 380.9,449.8 381.0,453.0 381.2,456.1 381.3,459.2 381.4,462.3 381.6,465.4 381.7,468.5 381.8,471.6 382.0,474.7 382.1,477.9 382.2,481.0 382.4,484.1 382.5,487.2 382.7,490.3 382.8,493.4 382.9,496.6 383.1,499.7 383.2,502.8 383.3,505.9 383.5,509.0 383.6,512.2 383.8,515.3 383.9,518.4 384.1,521.5 384.2,524.6 384.4,527.8 384.6,530.9 384.7,534.0 384.9,537.2 385.1,540.3 385.3,543.5 385.5,546.6 385.7,549.8 385.9,552.9 386.1,556.1 386.3,559.4 386.4,562.6 386.6,565.9 386.8,569.2 386.9,572.4 387.1,575.7 387.2,578.9 387.4,582.2 387.6,585.5 387.8,588.7 388.1,592.0 388.3,595.2 388.5,598.5 388.8,601.8 389.0,605.0 389.2,608.3 389.5,611.6 389.7,614.8 390.0,618.1 390.2,621.3 390.5,624.6 390.8,627.9 391.0,631.1 391.3,634.4 391.6,637.7 392.0,640.9 392.3,644.2 392.6,647.5 393.0,650.7 393.3,654.0 393.7,657.2 394.0,660.5 394.7,663.7 394.6,666.8 396.5,670.0 396.9,673.4 397.4,676.9 397.8,680.3 398.1,683.7 398.5,687.1 398.8,690.5 401.0,693.9 399.6,697.4 401.4,700.8 401.0,704.2 402.4,707.6 404.5,711.0 404.1,714.4 407.4,717.9 407.5,721.3 411.1,724.7 413.2,728.2 413.0,731.6 413.2,735.0 417.7,738.4 417.3,741.8 419.0,741.3 420.6,745.2 422.3,752.1 424.0,751.0 425.7,745.3 427.4,746.0 429.2,757.7 430.9,750.1 432.6,753.8 434.2,752.5 435.9,756.8 437.5,759.1 439.2,750.0 440.8,758.3 442.4,756.1 444.0,757.8 445.7,758.8 447.3,754.9 448.9,759.5 450.5,761.6 452.2,768.0 453.8,760.3 455.5,763.4 457.1,763.6 458.7,758.0 460.4,760.4 462.0,766.3 463.7,758.1 465.3,764.0 466.9,770.3 468.5,771.1 470.2,759.5 471.8,772.6 473.4,766.5 475.0,764.7 476.7,770.7 478.3,770.6 480.0,763.8 481.6,766.9 483.2,770.1 484.8,770.4 486.5,773.2 488.1,765.7 489.7,769.8 491.3,773.4 492.8,776.2 494.4,771.6 495.9,769.3 497.5,762.7 499.0,768.2 500.6,768.0 502.2,765.8 503.8,771.2 505.5,770.6 507.1,768.9 508.7,763.1 510.3,770.0 511.9,769.8 513.6,762.9 515.2,773.6 516.8,767.7 518.4,770.2 520.0,762.4 521.7,774.7 523.3,763.0 524.9,766.0 526.5,772.0 528.1,770.4 529.8,769.9 531.4,771.4 533.0,769.4 534.6,768.9 536.2,766.8 537.8,764.9 539.4,763.4 541.0,773.2 542.6,773.9 544.2,770.8 545.8,773.9 547.4,768.3 549.0,770.5 550.6,767.3 552.2,769.4 553.8,777.0 555.4,764.9 557.0,772.2 558.6,768.6 560.2,776.8 561.8,770.9 563.4,770.9 565.0,773.7 566.6,772.2 568.2,774.3 569.8,777.7 571.4,771.4 573.0,778.8 574.6,767.7 576.2,770.0 577.8,767.5 579.4,767.6 581.0,773.4 582.6,777.6 584.3,776.9 585.9,768.9 587.6,769.0 589.2,772.4 590.8,777.4 592.5,778.6 594.1,777.6 595.8,775.3 597.4,774.0 599.0,768.4 600.6,771.9 602.2,768.5 603.8,773.2 605.5,773.5 607.1,767.7 608.7,768.2 610.3,775.8 611.9,764.3 613.5,771.0 615.1,775.2 616.7,776.2 618.4,776.7 620.0,767.9 621.6,770.1 623.2,770.3 624.8,770.7 626.5,775.5 628.1,770.8 629.7,767.7 631.3,763.9 632.9,771.6 634.4,765.2 636.0,764.7 637.9,765.1 639.8,765.8 641.7,761.3 641.9,757.1 647.0,753.0 649.9,749.1 650.9,745.2 651.7,741.3 652.8,737.5 654.1,733.7 655.1,729.9 655.9,726.1 655.9,722.3 658.0,718.5 658.6,714.7 659.1,710.9 659.7,707.1 660.6,703.3 662.1,699.5 662.5,695.7 663.5,692.4 665.0,689.0 666.7,685.3 670.0,681.7 669.0,678.0 673.0,681.0 673.0,684.0 674.7,678.2 676.3,687.7 678.0,683.0 679.5,679.3 678.2,675.7 681.0,672.0 681.5,668.5 682.0,664.9 682.5,661.4 682.1,657.6 683.9,653.8 684.5,650.0 684.8,646.2 685.2,642.5 685.5,638.7 685.7,635.5 685.9,632.2 686.0,629.0 686.2,625.7 686.4,622.5 686.6,619.2 686.8,615.9 687.0,612.7 687.2,609.4 687.5,606.1 687.7,602.9 687.9,599.6 688.0,596.3 688.1,593.1 688.2,589.8 688.3,586.5 688.4,583.3 688.5,580.0 688.6,576.7 688.6,573.3 688.7,570.0 688.8,566.8 688.9,563.7 689.0,560.5 689.1,557.3 689.2,554.2 689.3,551.0 689.4,547.8 689.5,544.7 689.6,541.5 689.7,538.3 689.8,535.2 689.9,532.0 690.0,529.0 690.0,526.0 690.1,523.0 690.2,520.0 690.3,517.0 690.3,514.0 690.4,511.0 690.5,508.0 690.5,505.0 690.6,502.0 690.7,499.0 690.8,496.0 690.8,493.0 690.9,490.0 691.0,487.0 691.0,484.0 691.1,481.0 691.2,478.0 691.2,475.0 691.3,472.0 691.3,469.0 691.4,466.0 691.5,463.0 691.5,460.0 691.6,457.0 691.6,454.0 691.6,451.0 691.7,448.0 691.7,445.0 691.7,442.0 691.7,439.0 691.7,436.0 691.8,433.0 691.8,430.0 691.8,427.0 691.8,424.0 691.9,421.0 691.9,418.0 691.9,415.0 691.9,412.0 691.9,409.0 692.0,406.0 692.0,403.0 692.0,400.0 692.1,396.9 692.1,393.8 692.2,390.8 692.3,387.7 692.4,384.6 692.4,381.5 692.5,378.5 692.6,375.4 692.7,372.3 692.7,369.2 692.8,366.2 692.9,363.1 693.0,360.0 693.0,357.0 693.0,354.0 693.0,351.0 693.0,348.0 693.0,345.0 693.1,341.9 693.2,338.8 693.3,335.6 693.5,332.5 693.6,329.4 693.7,326.2 693.8,323.1 694.0,320.0 694.0,316.9 694.1,313.8 694.2,310.8 694.3,307.7 694.3,304.6 694.4,301.5 694.5,298.5 694.6,295.4 694.6,292.3 694.7,289.2 694.8,286.2 694.9,283.1 695.0,280.0 695.0,277.0 695.1,274.0 695.2,271.0 695.3,268.0 695.4,265.0 695.5,262.0 695.6,259.0 695.7,256.0 695.8,253.0 695.9,250.0 696.1,246.5 696.3,243.1 696.5,239.6 696.7,243.1 696.9,246.5 697.1,250.0 697.2,253.0 697.4,256.0 697.4,259.0 697.5,262.0 697.6,265.0 697.8,268.0 697.9,271.0 697.9,274.0 698.0,277.0 698.1,280.0 698.2,283.1 698.3,286.2 698.4,289.2 698.5,292.3 698.5,295.4 698.6,298.5 698.7,301.5 698.8,304.6 698.8,307.7 698.9,310.8 699.0,313.8 699.1,316.9 699.1,320.0 699.1,323.1 699.1,326.2 699.1,329.2 699.1,332.3 699.1,335.4 699.1,338.5 699.1,341.5 699.1,344.6 699.1,347.7 699.1,350.8 699.1,353.8 699.1,356.9 699.1,360.0 699.2,363.1 699.3,366.2 699.4,369.2 699.5,372.3 699.5,375.4 699.6,378.5 699.7,381.5 699.8,384.6 699.8,387.7 699.9,390.8 700.0,393.8 700.1,396.9 700.1,400.0 700.2,403.0 700.2,406.0 700.3,409.0 700.3,412.0 700.4,415.0 700.4,418.0 700.5,421.0 700.5,424.0 700.6,427.0 700.6,430.0 700.6,433.0 700.7,436.0 700.7,439.0 700.8,442.0 700.8,445.0 700.9,448.0 700.9,451.0 701.0,454.0 701.0,457.0 701.0,460.0 701.1,463.0 701.1,466.0 701.1,469.0 701.2,472.0 701.2,475.0 701.3,478.0 701.3,481.0 701.3,484.0 701.4,487.0 701.4,490.0 701.5,493.2 701.5,496.4 701.6,499.5 701.6,502.7 701.7,505.9 701.7,509.1 701.8,512.3 701.8,515.5 701.9,518.6 701.9,521.8 702.0,525.0 702.0,528.2 702.1,531.4 702.1,534.5 702.1,537.7 702.2,540.9 702.2,544.1 702.3,547.3 702.3,550.5 702.3,553.6 702.4,556.8 702.4,560.0 702.5,563.3 702.6,566.7 702.6,570.0 702.7,573.3 702.8,576.7 702.9,580.0 702.9,583.3 702.9,586.5 703.0,589.8 703.0,593.1 703.0,596.3 703.0,599.6 703.1,602.9 703.3,606.1 703.4,609.4 703.5,612.7 703.7,615.9 703.8,619.2 703.9,622.5 704.1,625.7 704.2,629.0 704.3,632.2 704.5,635.5 704.6,638.7 704.8,641.9 704.9,645.1 705.1,648.4 705.3,651.6 705.4,654.8 705.6,658.0 705.8,661.7 705.9,665.4 706.1,669.1 706.2,672.8 706.5,676.1 706.8,679.3 707.1,682.6 707.3,685.9 707.6,689.2 707.9,692.4 708.2,695.7 708.8,699.5 709.3,703.3 709.9,707.1 710.1,710.9 711.6,714.7 713.0,718.5 712.4,722.3 713.5,726.1 715.6,729.9 718.5,733.7 719.9,737.5 720.5,741.3 722.2,749.9 723.9,751.3 725.6,751.2 727.3,747.0 729.0,747.3 730.8,746.3 732.5,750.7 734.3,755.2 736.0,757.9 737.8,758.8 739.7,759.5 741.5,759.4 743.2,758.3 744.9,766.7 746.6,759.1 748.4,762.8 750.1,770.1 751.8,765.3 753.5,771.0 755.2,764.5 756.9,764.8 758.6,774.4 760.3,763.5 762.0,772.0 763.6,766.8 765.2,773.0 766.8,773.4 768.4,768.1 769.9,766.7 771.5,769.3 773.1,778.1 774.7,773.8 776.3,774.6 777.9,782.1 779.4,779.6 781.0,782.8 782.5,769.0 784.1,776.3 785.7,771.3 787.3,768.5 789.0,774.5 790.6,772.8 792.2,775.0 793.8,767.9 795.5,774.9 797.1,767.7 798.8,770.6 800.4,773.0 802.0,767.6 803.6,774.4 805.3,767.1 806.9,763.2 808.5,765.2 808.9,761.2 813.8,757.1 814.3,754.0 814.8,751.0 815.2,748.0 815.7,744.9 816.1,741.8 816.5,738.8 816.9,735.7 817.3,732.6 817.7,729.3 818.1,726.1 818.5,722.8 818.9,719.6 819.3,716.3 819.6,713.0 819.9,709.8 820.2,706.5 820.5,703.3 820.8,700.0 821.0,696.6 821.3,693.2 821.5,689.8 821.8,686.4 822.0,683.0 822.1,679.7 822.3,676.4 822.4,673.1 822.5,669.9 822.7,666.6 822.8,663.3 823.0,660.0 823.1,657.0 823.3,654.0 823.5,651.0 823.7,648.0 823.9,645.0 824.1,641.5 824.3,638.0 824.5,634.5 824.8,631.0 825.0,627.7 825.4,624.3 825.6,621.0 827.1,617.9 826.7,614.9 827.4,611.8 827.8,614.9 828.2,617.9 828.6,621.0 828.8,624.3 829.0,627.7 829.1,631.0 829.4,634.5 829.6,638.0 829.8,641.5 830.0,645.0 830.2,648.0 830.4,651.0 830.6,654.0 830.8,657.0 831.0,660.0 831.1,663.3 831.2,666.6 831.3,669.9 831.4,673.1 831.5,676.4 831.6,679.7 831.8,683.0 832.0,686.4 832.2,689.8 832.4,693.2 832.6,696.6 832.8,700.0 833.1,703.3 833.5,706.5 833.8,709.8 834.2,713.0 834.5,716.3 834.8,719.6 835.1,722.8 835.3,726.1 835.6,729.3 835.9,732.6 835.8,735.7 838.1,738.8 838.6,741.8 838.0,744.9 838.1,748.2 839.2,751.5 839.6,754.7 841.2,758.0 841.4,761.2 845.3,764.5 846.9,761.7 848.5,773.5 850.2,760.9 851.8,764.0 853.4,769.0 855.0,765.4 856.7,764.5 858.3,772.0 860.0,776.2 861.6,773.4 863.2,780.0 864.8,778.3 866.5,782.6 868.1,771.9 869.7,780.8 871.3,779.0 873.0,790.6 874.6,778.7 876.3,783.2 877.9,788.1 879.4,788.3 880.9,785.6 882.4,790.3 884.0,783.3 885.5,786.6 887.0,797.9 888.5,786.2 890.0,792.0 891.5,798.8 893.0,788.7 894.5,801.6 896.0,795.0 897.6,798.2 899.2,798.3 900.8,791.3 902.4,790.6 904.0,801.7 905.6,793.5 907.2,794.3 908.8,804.3 910.4,805.7 912.0,800.6 913.6,793.8 915.3,807.5 916.9,801.0 918.6,798.7 920.2,794.6 921.8,798.8 923.5,807.7 925.1,797.1 926.8,794.8 928.4,800.3 930.0,795.5 931.6,795.7 933.2,799.6 934.8,808.6 936.5,796.6 938.1,798.8 939.7,810.5 941.3,811.9 942.9,812.2 944.5,805.5 946.1,801.8 947.7,803.5 949.3,812.5 950.9,805.6 952.5,809.0 954.2,803.2 955.8,798.9 957.4,803.8 959.0,809.9 960.6,806.3 962.2,810.8 963.8,807.9 965.5,806.6 967.1,808.0 968.7,806.9 970.3,808.6 971.9,813.3 973.6,804.1 975.2,810.3 976.8,809.2 978.4,815.7 980.0,814.4 981.7,804.4 983.3,816.2 984.9,814.3 986.5,804.2 988.1,805.7 989.8,804.7 991.4,802.5 993.0,809.2 994.6,816.5 996.2,808.0 997.8,815.0 999.4,803.7 1001.0,802.3 1002.6,815.2 1004.2,814.2 1005.8,817.2 1007.4,812.7 1009.0,810.0 1010.6,810.5 1012.2,814.2 1013.8,804.2 1015.4,811.0 1017.0,809.7 1018.6,805.4 1020.2,812.3 1021.8,808.2 1023.4,811.1 1025.0,811.1 1026.6,809.7 1028.3,809.3 1029.9,810.3 1031.5,814.4 1033.2,820.6 1034.8,820.3 1036.4,819.7 1038.0,819.7 1039.7,812.0 1041.3,815.6 1042.9,822.8 1044.5,812.3 1046.1,810.2 1047.7,816.0 1049.3,819.5 1051.0,813.8 1052.6,818.4 1054.2,813.1 1055.8,823.4 1057.4,816.5 1059.0,816.2 1060.6,817.0 1062.2,818.2 1063.8,823.7 1065.5,825.8 1067.1,819.3 1068.7,818.4 1070.3,821.5 1071.9,813.6 1073.5,820.5 1075.1,819.5 1076.7,825.9 1078.4,825.0 1080.0,814.3 1081.6,826.4 1083.2,819.4 1084.8,828.5 1086.5,819.4 1088.1,817.2 1089.7,821.6 1091.2,822.7 1092.8,828.1 1094.3,821.7 1095.9,828.6 1097.5,826.6 1099.0,821.8 1100.5,821.2 1102.1,824.7 1103.7,823.5 1105.2,823.4 1106.8,828.0 1108.3,826.1 1109.8,831.6 1111.4,827.1 1112.9,820.4 1114.4,821.4 1116.0,823.6 1117.5,827.1 1119.0,819.9 1120.6,818.9 1122.1,822.4 1123.6,821.7 1125.2,817.8 1126.7,824.7 1128.2,825.6 1129.8,831.7 1131.3,826.3 1132.8,829.7 1134.3,831.4 1135.8,831.9 1137.4,833.3 1138.9,826.6 1140.4,830.6 1142.0,822.5 1143.5,834.2 1145.0,828.9 1146.5,827.2 1148.0,828.8 1149.6,835.2 1151.1,826.3 1152.6,825.0 1154.2,834.7 1155.7,831.4 1157.2,823.9 1158.7,823.2 1160.2,828.2 1161.8,823.2 1163.3,830.7 1164.8,835.7 1166.3,826.0 1167.9,827.4 1169.4,829.1 1170.9,831.0 1172.4,829.8 1174.0,832.8 1175.5,833.3 1177.0,830.0 1178.5,824.9 1180.1,838.2 1181.6,831.0 1183.1,834.1 1184.7,825.2 1186.2,830.8 1187.7,835.7 1189.3,839.5 1190.8,825.9 1192.3,825.3 1193.9,832.6 1195.4,831.9 1196.9,839.2 1198.5,838.5 1200.0,833.8 1201.5,831.1 1203.0,832.3 1204.6,834.6 1206.1,839.0 1207.6,828.6 1209.2,831.3 1210.7,826.6 1212.2,834.7 1213.7,825.3 1215.2,838.8 1216.8,832.5 1218.3,832.0 1219.8,832.9 1221.4,825.3 1222.9,827.3 1224.4,830.6 1226.0,836.2 1227.5,831.2 1229.0,827.2 1230.5,837.4 1232.1,832.3 1233.6,830.1 1235.1,825.0 1236.7,826.2 1238.2,829.0 1239.9,834.0 1241.6,821.5 1243.3,826.0 1245.2,824.3 1247.0,823.4 1248.8,817.2 1250.7,817.2 1253.7,814.1 1254.0,811.0 1257.6,808.0 1257.1,805.0 1257.6,801.4 1257.8,797.7 1257.9,794.0 1258.0,790.4 1258.2,786.7 1257.7,782.8 1259.5,778.9 1260.5,775.0 1260.6,772.0 1261.0,768.9 1265.1,765.8 1264.3,762.8 1263.9,765.9 1268.0,768.9 1267.5,772.0 1269.3,775.7 1267.8,779.4 1270.5,783.0 1270.1,786.7 1270.3,790.4 1270.5,794.0 1270.7,797.7 1270.9,801.4 1271.3,805.1 1271.8,808.8 1273.3,812.3 1274.3,815.9 1276.4,819.4 1278.2,825.5 1280.1,826.0 1281.9,815.2 1283.7,822.7 1285.5,821.3 1287.4,821.2 1289.2,818.1 1291.1,823.0 1292.9,819.4 1294.7,819.7 1296.4,826.2 1298.2,821.0 1300.0,823.5 1301.7,817.8 1303.3,819.6 1305.0,823.0 1306.7,825.0 1308.3,820.3 1310.0,824.3 1311.5,827.9 1313.0,821.3 1314.5,828.7 1316.0,828.4 1317.5,822.5 1319.0,828.0 1320.8,833.6 1322.7,830.1 1324.6,834.1 1326.4,835.3 1328.2,837.1 1330.0,836.0" stroke="#ff0000" stroke-width="7.5"/>
<polyline points="86.0,840.0 87.3,840.8 89.0,836.4 90.8,840.5 92.5,837.4 94.3,840.4 96.0,838.4 97.6,839.5 99.3,830.3 100.9,828.7 102.5,840.2 104.2,830.7 105.8,829.6 107.4,840.2 109.0,831.5 110.7,836.2 112.3,830.3 113.9,829.3 115.5,831.1 117.1,823.1 118.7,829.8 120.3,832.6 122.0,826.8 123.6,829.4 125.2,827.8 126.8,818.0 128.4,823.9 130.0,827.0 131.6,823.8 133.2,818.7 134.8,813.9 136.4,825.7 138.1,819.1 139.7,822.1 141.3,823.7 142.9,820.5 144.5,816.6 146.1,822.4 147.7,813.9 149.3,819.4 150.9,813.5 152.6,820.3 154.2,818.9 155.8,806.6 157.4,806.7 159.0,807.3 160.6,811.0 162.2,817.3 163.8,808.7 165.5,810.9 167.1,805.4 168.7,807.9 170.3,805.4 171.9,804.2 173.6,807.1 175.2,806.4 176.8,804.5 178.4,810.0 180.0,806.1 181.7,809.3 183.3,807.6 184.9,809.1 186.5,803.7 188.1,795.5 189.8,805.4 191.4,806.4 193.0,798.9 194.6,804.5 196.2,799.0 197.8,800.6 199.4,792.6 201.0,801.4 202.6,797.1 204.2,792.2 205.8,788.4 207.4,799.8 209.0,794.0 210.6,800.5 212.2,786.2 213.8,796.1 215.4,789.5 217.0,784.8 218.6,786.1 220.2,792.4 221.8,793.2 223.4,780.0 225.0,786.0 226.5,787.5 228.0,778.8 229.5,788.7 231.0,782.7 232.5,790.7 234.0,792.0 235.5,784.7 237.0,791.9 238.5,781.3 240.0,784.0 241.6,777.0 243.3,784.2 244.9,775.0 246.5,776.9 248.2,779.4 249.8,780.1 251.4,780.8 253.1,773.1 254.7,770.4 256.3,781.9 258.0,772.6 259.6,774.5 261.2,780.4 262.9,778.4 264.5,769.6 266.1,769.8 267.8,769.7 269.4,768.4 271.0,769.7 272.7,768.2 274.3,766.8 275.9,766.9 277.6,770.9 279.2,763.5 280.8,762.2 282.4,759.7 284.1,762.7 285.7,758.0 287.6,753.7 289.5,754.3 291.4,757.0 293.3,761.8 295.2,752.7 297.1,750.0 299.0,748.2 300.9,737.7 302.8,742.5 304.7,739.4 306.6,740.0 308.5,737.0 310.4,727.0 312.3,733.1" stroke="#ff0000" stroke-width="8.5"/>
<polyline points="417.3,741.8 419.0,741.3 420.6,745.2 422.3,752.1 424.0,751.0 425.7,745.3 427.4,746.0 429.2,757.7 430.9,750.1 432.6,753.8 434.2,752.5 435.9,756.8 437.5,759.1 439.2,750.0 440.8,758.3 442.4,756.1 444.0,757.8 445.7,758.8 447.3,754.9 448.9,759.5 450.5,761.6 452.2,768.0 453.8,760.3 455.5,763.4 457.1,763.6 458.7,758.0 460.4,760.4 462.0,766.3 463.7,758.1 465.3,764.0 466.9,770.3 468.5,771.1 470.2,759.5 471.8,772.6 473.4,766.5 475.0,764.7 476.7,770.7 478.3,770.6 480.0,763.8 481.6,766.9 483.2,770.1 484.8,770.4 486.5,773.2 488.1,765.7 489.7,769.8 491.3,773.4 492.8,776.2 494.4,771.6 495.9,769.3 497.5,762.7 499.0,768.2 500.6,768.0 502.2,765.8 503.8,771.2 505.5,770.6 507.1,768.9 508.7,763.1 510.3,770.0 511.9,769.8 513.6,762.9 515.2,773.6 516.8,767.7 518.4,770.2 520.0,762.4 521.7,774.7 523.3,763.0 524.9,766.0 526.5,772.0 528.1,770.4 529.8,769.9 531.4,771.4 533.0,769.4 534.6,768.9 536.2,766.8 537.8,764.9 539.4,763.4 541.0,773.2 542.6,773.9 544.2,770.8 545.8,773.9 547.4,768.3 549.0,770.5 550.6,767.3 552.2,769.4 553.8,777.0 555.4,764.9 557.0,772.2 558.6,768.6 560.2,776.8 561.8,770.9 563.4,770.9 565.0,773.7 566.6,772.2 568.2,774.3 569.8,777.7 571.4,771.4 573.0,778.8 574.6,767.7 576.2,770.0 577.8,767.5 579.4,767.6 581.0,773.4 582.6,777.6 584.3,776.9 585.9,768.9 587.6,769.0 589.2,772.4 590.8,777.4 592.5,778.6 594.1,777.6 595.8,775.3 597.4,774.0 599.0,768.4 600.6,771.9 602.2,768.5 603.8,773.2 605.5,773.5 607.1,767.7 608.7,768.2 610.3,775.8 611.9,764.3 613.5,771.0 615.1,775.2 616.7,776.2 618.4,776.7 620.0,767.9 621.6,770.1 623.2,770.3 624.8,770.7 626.5,775.5 628.1,770.8 629.7,767.7 631.3,763.9 632.9,771.6 634.4,765.2 636.0,764.7 637.9,765.1 639.8,765.8" stroke="#ff0000" stroke-width="8.5"/>
<polyline points="673.0,684.0 674.7,678.2 676.3,687.7" stroke="#ff0000" stroke-width="8.5"/>
<polyline points="720.5,741.3 722.2,749.9 723.9,751.3 725.6,751.2 727.3,747.0 729.0,747.3 730.8,746.3 732.5,750.7 734.3,755.2 736.0,757.9 737.8,758.8 739.7,759.5 741.5,759.4 743.2,758.3 744.9,766.7 746.6,759.1 748.4,762.8 750.1,770.1 751.8,765.3 753.5,771.0 755.2,764.5 756.9,764.8 758.6,774.4 760.3,763.5 762.0,772.0 763.6,766.8 765.2,773.0 766.8,773.4 768.4,768.1 769.9,766.7 771.5,769.3 773.1,778.1 774.7,773.8 776.3,774.6 777.9,782.1 779.4,779.6 781.0,782.8 782.5,769.0 784.1,776.3 785.7,771.3 787.3,768.5 789.0,774.5 790.6,772.8 792.2,775.0 793.8,767.9 795.5,774.9 797.1,767.7 798.8,770.6 800.4,773.0 802.0,767.6 803.6,774.4 805.3,767.1 806.9,763.2" stroke="#ff0000" stroke-width="8.5"/>
<polyline points="845.3,764.5 846.9,761.7 848.5,773.5 850.2,760.9 851.8,764.0 853.4,769.0 855.0,765.4 856.7,764.5 858.3,772.0 860.0,776.2 861.6,773.4 863.2,780.0 864.8,778.3 866.5,782.6 868.1,771.9 869.7,780.8 871.3,779.0 873.0,790.6 874.6,778.7 876.3,783.2 877.9,788.1 879.4,788.3 880.9,785.6 882.4,790.3 884.0,783.3 885.5,786.6 887.0,797.9 888.5,786.2 890.0,792.0 891.5,798.8 893.0,788.7 894.5,801.6 896.0,795.0 897.6,798.2 899.2,798.3 900.8,791.3 902.4,790.6 904.0,801.7 905.6,793.5 907.2,794.3 908.8,804.3 910.4,805.7 912.0,800.6 913.6,793.8 915.3,807.5 916.9,801.0 918.6,798.7 920.2,794.6 921.8,798.8 923.5,807.7 925.1,797.1 926.8,794.8 928.4,800.3 930.0,795.5 931.6,795.7 933.2,799.6 934.8,808.6 936.5,796.6 938.1,798.8 939.7,810.5 941.3,811.9 942.9,812.2 944.5,805.5 946.1,801.8 947.7,803.5 949.3,812.5 950.9,805.6 952.5,809.0 954.2,803.2 955.8,798.9 957.4,803.8 959.0,809.9 960.6,806.3 962.2,810.8 963.8,807.9 965.5,806.6 967.1,808.0 968.7,806.9 970.3,808.6 971.9,813.3 973.6,804.1 975.2,810.3 976.8,809.2 978.4,815.7 980.0,814.4 981.7,804.4 983.3,816.2 984.9,814.3 986.5,804.2 988.1,805.7 989.8,804.7 991.4,802.5 993.0,809.2 994.6,816.5 996.2,808.0 997.8,815.0 999.4,803.7 1001.0,802.3 1002.6,815.2 1004.2,814.2 1005.8,817.2 1007.4,812.7 1009.0,810.0 1010.6,810.5 1012.2,814.2 1013.8,804.2 1015.4,811.0 1017.0,809.7 1018.6,805.4 1020.2,812.3 1021.8,808.2 1023.4,811.1 1025.0,811.1 1026.6,809.7 1028.3,809.3 1029.9,810.3 1031.5,814.4 1033.2,820.6 1034.8,820.3 1036.4,819.7 1038.0,819.7 1039.7,812.0 1041.3,815.6 1042.9,822.8 1044.5,812.3 1046.1,810.2 1047.7,816.0 1049.3,819.5 1051.0,813.8 1052.6,818.4 1054.2,813.1 1055.8,823.4 1057.4,816.5 1059.0,816.2 1060.6,817.0 1062.2,818.2 1063.8,823.7 1065.5,825.8 1067.1,819.3 1068.7,818.4 1070.3,821.5 1071.9,813.6 1073.5,820.5 1075.1,819.5 1076.7,825.9 1078.4,825.0 1080.0,814.3 1081.6,826.4 1083.2,819.4 1084.8,828.5 1086.5,819.4 1088.1,817.2 1089.7,821.6 1091.2,822.7 1092.8,828.1 1094.3,821.7 1095.9,828.6 1097.5,826.6 1099.0,821.8 1100.5,821.2 1102.1,824.7 1103.7,823.5 1105.2,823.4 1106.8,828.0 1108.3,826.1 1109.8,831.6 1111.4,827.1 1112.9,820.4 1114.4,821.4 1116.0,823.6 1117.5,827.1 1119.0,819.9 1120.6,818.9 1122.1,822.4 1123.6,821.7 1125.2,817.8 1126.7,824.7 1128.2,825.6 1129.8,831.7 1131.3,826.3 1132.8,829.7 1134.3,831.4 1135.8,831.9 1137.4,833.3 1138.9,826.6 1140.4,830.6 1142.0,822.5 1143.5,834.2 1145.0,828.9 1146.5,827.2 1148.0,828.8 1149.6,835.2 1151.1,826.3 1152.6,825.0 1154.2,834.7 1155.7,831.4 1157.2,823.9 1158.7,823.2 1160.2,828.2 1161.8,823.2 1163.3,830.7 1164.8,835.7 1166.3,826.0 1167.9,827.4 1169.4,829.1 1170.9,831.0 1172.4,829.8 1174.0,832.8 1175.5,833.3 1177.0,830.0 1178.5,824.9 1180.1,838.2 1181.6,831.0 1183.1,834.1 1184.7,825.2 1186.2,830.8 1187.7,835.7 1189.3,839.5 1190.8,825.9 1192.3,825.3 1193.9,832.6 1195.4,831.9 1196.9,839.2 1198.5,838.5 1200.0,833.8 1201.5,831.1 1203.0,832.3 1204.6,834.6 1206.1,839.0 1207.6,828.6 1209.2,831.3 1210.7,826.6 1212.2,834.7 1213.7,825.3 1215.2,838.8 1216.8,832.5 1218.3,832.0 1219.8,832.9 1221.4,825.3 1222.9,827.3 1224.4,830.6 1226.0,836.2 1227.5,831.2 1229.0,827.2 1230.5,837.4 1232.1,832.3 1233.6,830.1 1235.1,825.0 1236.7,826.2 1238.2,829.0 1239.9,834.0 1241.6,821.5 1243.3,826.0 1245.2,824.3 1247.0,823.4 1248.8,817.2" stroke="#ff0000" stroke-width="8.5"/>
<polyline points="1276.4,819.4 1278.2,825.5 1280.1,826.0 1281.9,815.2 1283.7,822.7 1285.5,821.3 1287.4,821.2 1289.2,818.1 1291.1,823.0 1292.9,819.4 1294.7,819.7 1296.4,826.2 1298.2,821.0 1300.0,823.5 1301.7,817.8 1303.3,819.6 1305.0,823.0 1306.7,825.0 1308.3,820.3 1310.0,824.3 1311.5,827.9 1313.0,821.3 1314.5,828.7 1316.0,828.4 1317.5,822.5 1319.0,828.0 1320.8,833.6 1322.7,830.1 1324.6,834.1 1326.4,835.3 1328.2,837.1" stroke="#ff0000" stroke-width="8.5"/>
</g>
<line x1="369.0" y1="203.75" x2="370.1" y2="1083" stroke="#000" stroke-width="5.3" stroke-dasharray="21.7 28.7" stroke-linecap="round"/>
<line x1="666.8" y1="703.25" x2="673.95" y2="1077.5" stroke="#000" stroke-width="5.3" stroke-dasharray="21.7 28.7" stroke-linecap="round"/>
<line x1="696.5" y1="264.55" x2="696.5" y2="1083" stroke="#000" stroke-width="5.3" stroke-dasharray="21.7 28.7" stroke-linecap="round"/>
<line x1="826.5" y1="651.65" x2="827.7" y2="1083" stroke="#000" stroke-width="5.3" stroke-dasharray="21.7 28.7" stroke-linecap="round"/>
<line x1="1264.5" y1="772.75" x2="1264.6" y2="1083" stroke="#000" stroke-width="5.3" stroke-dasharray="21.7 28.7" stroke-linecap="round"/>
<path d="M86,23.5 H1330 V1085 H86 Z" fill="none" stroke="#000" stroke-width="4.4"/>
<line x1="86.0" y1="1085" x2="86.0" y2="1107.5" stroke="#000" stroke-width="4.5"/>
<line x1="263.7" y1="1085" x2="263.7" y2="1107.5" stroke="#000" stroke-width="4.5"/>
<line x1="441.4" y1="1085" x2="441.4" y2="1107.5" stroke="#000" stroke-width="4.5"/>
<line x1="619.1" y1="1085" x2="619.1" y2="1107.5" stroke="#000" stroke-width="4.5"/>
<line x1="796.9" y1="1085" x2="796.9" y2="1107.5" stroke="#000" stroke-width="4.5"/>
<line x1="974.6" y1="1085" x2="974.6" y2="1107.5" stroke="#000" stroke-width="4.5"/>
<line x1="1152.3" y1="1085" x2="1152.3" y2="1107.5" stroke="#000" stroke-width="4.5"/>
<line x1="1330.0" y1="1085" x2="1330.0" y2="1107.5" stroke="#000" stroke-width="4.5"/>
<line x1="174.9" y1="1085" x2="174.9" y2="1098" stroke="#000" stroke-width="4.5"/>
<line x1="352.6" y1="1085" x2="352.6" y2="1098" stroke="#000" stroke-width="4.5"/>
<line x1="530.3" y1="1085" x2="530.3" y2="1098" stroke="#000" stroke-width="4.5"/>
<line x1="708.0" y1="1085" x2="708.0" y2="1098" stroke="#000" stroke-width="4.5"/>
<line x1="885.7" y1="1085" x2="885.7" y2="1098" stroke="#000" stroke-width="4.5"/>
<line x1="1063.4" y1="1085" x2="1063.4" y2="1098" stroke="#000" stroke-width="4.5"/>
<line x1="1241.1" y1="1085" x2="1241.1" y2="1098" stroke="#000" stroke-width="4.5"/>
<g style="filter:grayscale(1)">
<text transform="translate(86.0,1150.6) scale(0.856,1.045)" text-anchor="middle" font-size="41.0">10</text>
<text transform="translate(263.7,1150.6) scale(0.856,1.045)" text-anchor="middle" font-size="41.0">20</text>
<text transform="translate(441.4,1150.6) scale(0.856,1.045)" text-anchor="middle" font-size="41.0">30</text>
<text transform="translate(619.1,1150.6) scale(0.856,1.045)" text-anchor="middle" font-size="41.0">40</text>
<text transform="translate(796.9,1150.6) scale(0.856,1.045)" text-anchor="middle" font-size="41.0">50</text>
<text transform="translate(974.6,1150.6) scale(0.856,1.045)" text-anchor="middle" font-size="41.0">60</text>
<text transform="translate(1152.3,1150.6) scale(0.856,1.045)" text-anchor="middle" font-size="41.0">70</text>
<text transform="translate(1330.0,1150.6) scale(0.856,1.045)" text-anchor="middle" font-size="41.0">80</text>
<g style="filter:grayscale(1)">
</g>
<text transform="matrix(0.22731 0 0 0.25407 336.78 105.49)" font-weight="bold" font-size="200">011</text>
<text transform="matrix(0.23095 0 0 0.26107 667.10 179.90)" font-weight="bold" font-size="200">111</text>
<text transform="matrix(0.22218 0 0 0.25185 796.12 561.40)" font-weight="bold" font-size="200">200</text>
<text transform="matrix(0.22324 0 0 0.25481 1233.11 714.69)" font-weight="bold" font-size="200">220</text>
<text transform="matrix(0.22612 0 0 0.27015 1004.44 255.46)" font-weight="bold" font-size="200">CNTs</text>
<text transform="matrix(0.21347 0 0 0.25362 1013.55 318.10)" font-weight="bold" font-size="200">Ni</text>
<text transform="matrix(0.22379 0 0 0.25556 128.79 788.17)" font-weight="bold" font-size="200">(b)</text>
<text transform="matrix(0.22140 0 0 0.25278 132.81 925.88)" font-weight="bold" font-size="200">(a)</text>
<text transform="matrix(0.21474 0 0 0.23944 655.07 1204.52)" font-weight="normal" font-size="200">2θ/°</text>
<text transform="matrix(0 -0.25389 0.26167 0 55.11 707.48)" font-weight="normal" font-size="200">Intensity (a.u.)</text>
<path transform="translate(357.06,134.04) scale(23.840,30.860)" d="M0.52,0 L1,1 L0,1 Z M0.46,0.2 L0.084,0.94 L0.794,0.94 Z" fill-rule="evenodd"/>
<path transform="translate(658.2,630.3) scale(23.200,30.500)" d="M0.52,0 L1,1 L0,1 Z M0.46,0.2 L0.084,0.94 L0.794,0.94 Z" fill-rule="evenodd"/>
<path transform="translate(971.8,223.8) scale(24.100,31.000)" d="M0.52,0 L1,1 L0,1 Z M0.46,0.2 L0.084,0.94 L0.794,0.94 Z" fill-rule="evenodd"/>
</g>
<ellipse cx="696" cy="218.8" rx="7.2" ry="8"/>
<ellipse cx="829" cy="595.8" rx="7.2" ry="8"/>
<ellipse cx="1264" cy="747" rx="7.2" ry="8"/>
<ellipse cx="983" cy="304.9" rx="7.2" ry="8"/>
</svg>
</body></html>
